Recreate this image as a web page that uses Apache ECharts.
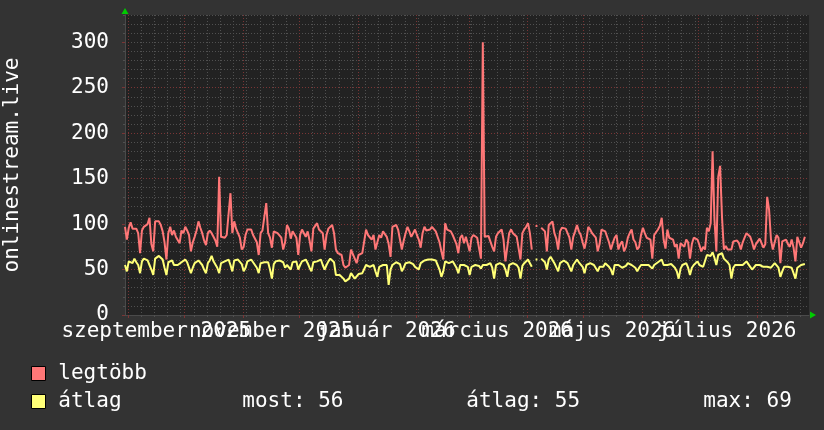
<!DOCTYPE html>
<html><head><meta charset="utf-8">
<script src="https://cdn.jsdelivr.net/npm/echarts@6/dist/echarts.min.js"></script>
<style>html,body{margin:0;padding:0;background:#333333;} #c{width:824px;height:430px;}</style>
</head><body><div id="c"></div>
<script>
// ---- data ----
const seriesNames = ['legtöbb', 'átlag'];
const statLabels = ['most: 56', 'átlag: 55', 'max: 69'];
const yTitle = 'onlinestream.live';
const xTickLabels = ['szeptember 2025', 'november 2025', 'január 2026', 'március 2026', 'május 2026', 'július 2026'];
const xTickLabelDates = ['2025-09-16', '2025-11-16', '2026-01-16', '2026-03-16', '2026-05-16', '2026-07-16'];
const monthStartDates = ['2025-09-01','2025-10-01','2025-11-01','2025-12-01','2026-01-01','2026-02-01','2026-03-01','2026-04-01','2026-05-01','2026-06-01','2026-07-01','2026-08-01'];
const firstWeekStart = '2025-09-01';
const yTickLabels = [0, 50, 100, 150, 200, 250, 300];
const startTime = '2025-08-30T09:46:00Z';
const endTime = '2026-08-28T14:34:00Z';

const legtobb = [
97,83,96,102,95,93,95,
90,68,93,97,96,100,107,
78,70,103,101,103,99,92,
80,61,90,97,88,93,86,
84,79,93,90,97,93,88,
70,80,86,93,103,96,90,
82,77,90,93,90,86,82,
75,152,86,85,85,88,88,
134,90,103,95,93,85,72,
75,88,94,95,94,88,86,
80,66,90,93,95,123,90,
85,74,92,94,90,88,85,
72,80,99,95,84,92,90,
85,66,88,94,90,86,92,
82,70,95,97,101,94,92,
90,72,88,95,97,99,90,
72,68,70,66,55,52,50,
55,72,70,62,57,66,68,
68,70,94,88,86,83,88,
72,80,88,85,92,90,86,
78,64,97,95,99,94,92,
72,82,90,97,92,86,90,
94,88,83,74,90,97,93,
95,94,97,99,92,90,80,
70,61,101,94,92,92,88,
86,78,68,85,88,79,86,
88,70,85,88,86,85,86,
62,300,86,85,87,88,75,
70,86,90,92,94,83,59,
75,90,94,90,88,86,84,
61,90,94,97,101,90,72,
null,98,98,null,96,94,92,
70,99,101,103,90,84,72,
92,96,96,95,96,85,72,
86,92,99,92,88,80,73,
83,97,94,90,88,85,70,
78,94,92,92,90,80,72,
79,85,88,72,78,81,70,
75,85,90,94,83,80,72,
75,88,96,90,85,86,83,
62,88,90,94,98,107,83,
73,94,85,86,83,75,78,
62,79,80,75,83,80,62,
78,85,86,83,77,70,75,
72,96,92,101,180,105,70,
152,164,108,72,76,72,74,
72,81,83,82,79,72,80,
85,90,92,86,80,72,78,
81,84,86,74,78,130,116,
83,72,80,88,85,57,81,
80,83,78,75,83,74,59,
86,80,74,79,86
];

const atlag = [
55,48,59,57,57,62,58,
55,46,59,62,64,60,55,
50,44,62,64,65,66,61,
52,44,58,59,60,55,57,
55,53,58,59,61,58,57,
46,52,57,59,60,61,55,
50,46,57,60,65,59,58,
52,46,57,58,59,60,61,
55,48,60,61,61,60,56,
48,52,59,60,61,58,57,
52,46,57,57,58,59,58,
50,40,56,59,60,60,61,
58,52,55,57,50,58,59,
59,50,55,59,60,61,57,
52,48,58,59,59,60,61,
55,50,55,59,62,64,58,
44,45,44,42,40,37,39,
40,46,44,40,42,45,44,
46,46,55,53,53,55,55,
48,42,53,55,55,56,55,
33,50,55,57,58,59,56,
48,52,57,57,58,59,56,
53,52,50,57,58,60,61,
61,62,61,61,60,55,50,
42,48,59,58,57,57,59,
61,52,46,55,56,55,53,
53,44,53,55,55,56,54,
51,55,55,55,56,57,52,
40,55,56,57,57,55,50,
42,55,56,57,57,55,52,
40,54,57,59,61,57,53,
null,61,61,null,62,62,58,
50,61,64,62,57,59,48,
57,59,60,58,57,55,48,
55,57,61,58,57,53,46,
55,53,57,56,55,53,48,
53,55,53,57,56,53,50,
44,55,53,55,53,52,51,
54,57,56,55,53,52,48,
52,55,57,55,55,55,53,
51,55,57,58,59,61,55,
53,55,55,56,55,52,48,
40,51,55,57,57,52,44,
52,55,56,59,55,55,53,
53,66,64,65,69,63,55,
66,64,68,62,61,58,55,
40,52,55,57,55,53,55,
55,59,56,53,50,52,55,
53,55,53,53,55,53,53,
52,53,57,57,52,42,48,
53,52,53,53,52,50,40,
52,53,55,55,56
];

// ---- derived ----
const DAY = 86400000;
const t0 = Date.parse(startTime), t1 = Date.parse(endTime);
const parseDay = s => Date.parse(s + 'T00:00:00Z');
const monthStarts = monthStartDates.map(parseDay);
const labelTimes = xTickLabelDates.map(parseDay);
const labelTimesA = labelTimes.filter((t, i) => i % 2 === 0);
const labelTimesB = labelTimes.filter((t, i) => i % 2 === 1);
const weekStarts = [];
for (let t = parseDay(firstWeekStart); t <= t1; t += 7 * DAY) weekStarts.push(t);
const toPairs = arr => arr.map((v, i) => [t0 + i * DAY, v]);

const font = 'DejaVu Sans Mono';
const minorGrid = {show: true, lineStyle: {color: '#505050', type: [1, 2], width: 1}};
const majorGrid = {show: true, lineStyle: {color: '#7a3535', type: [1, 2], width: 1}};
const txt = {color: '#ffffff', fontFamily: font, fontSize: 21};

function xLabel(v) {
  for (let i = 0; i < labelTimes.length; i++) if (Math.abs(labelTimes[i] - v) < DAY / 2) return xTickLabels[i];
  return '';
}
function labelAxis(values, withArrow) {
  return {type: 'value', position: 'bottom', min: t0, max: t1,
    axisLine: withArrow
      ? {show: true, onZero: false, symbol: ['none', 'triangle'], symbolSize: [7, 6], symbolOffset: [0, 4], lineStyle: {color: '#00cc00', width: 0}}
      : {show: false, onZero: false},
    axisTick: {show: false}, splitLine: {show: false},
    axisLabel: Object.assign({show: true, customValues: values, formatter: xLabel, margin: 6, hideOverlap: false, showMinLabel: true, showMaxLabel: true}, txt)};
}

const chart = echarts.init(document.getElementById('c'), null, {renderer: 'canvas'});
chart.setOption({
  animation: false,
  backgroundColor: '#333333',
  textStyle: {fontFamily: font},
  grid: {left: 125, right: 15, top: 15, bottom: 115, show: true, backgroundColor: '#222222', borderWidth: 0, containLabel: false, outerBoundsMode: 'none'},
  xAxis: [
    {type: 'value', position: 'bottom', min: t0, max: t1,
     axisLine: {show: true, onZero: false, lineStyle: {color: '#4a4a4a', width: 1}},
     axisTick: {show: true, length: 2, customValues: weekStarts, lineStyle: {color: '#505050'}},
     axisLabel: {show: false}, splitLine: minorGrid},
    {type: 'value', position: 'bottom', min: t0, max: t1,
     axisLine: {show: false, onZero: false},
     axisTick: {show: true, length: 3, customValues: monthStarts, lineStyle: {color: '#7a3535'}},
     axisLabel: {show: false}, splitLine: majorGrid},
    labelAxis(labelTimesA, true),
    labelAxis(labelTimesB, false)
  ],
  yAxis: [
    {type: 'value', position: 'left', min: 0, max: 330, interval: 10,
     axisLine: {show: true, onZero: false, lineStyle: {color: '#4a4a4a', width: 1}},
     axisTick: {show: true, length: 2, lineStyle: {color: '#505050'}},
     axisLabel: {show: false}, splitLine: minorGrid},
    {type: 'value', position: 'left', min: 0, max: 330,
     axisLine: {show: true, onZero: false, symbol: ['none', 'triangle'], symbolSize: [7, 6], symbolOffset: [0, 4], lineStyle: {color: '#00cc00', width: 0}},
     axisTick: {show: true, length: 3, customValues: yTickLabels, lineStyle: {color: '#7a3535'}},
     axisLabel: Object.assign({customValues: yTickLabels, margin: 16}, txt),
     splitLine: Object.assign({showMaxLine: false}, majorGrid),
     name: yTitle, nameLocation: 'middle', nameGap: 102, nameTextStyle: txt}
  ],
  legend: {
    left: 31, top: 363, orient: 'vertical', padding: 0, itemWidth: 14, itemHeight: 14, itemGap: 7,
    icon: 'rect', selectedMode: false,
    itemStyle: {borderColor: '#000000', borderWidth: 1},
    data: seriesNames,
    textStyle: Object.assign({lineHeight: 21, rich: {
      p: {fontFamily: font, fontSize: 13, lineHeight: 21, color: '#ffffff'},
      n: {fontFamily: font, fontSize: 21, lineHeight: 21, color: '#ffffff', width: 184},
      a: {fontFamily: font, fontSize: 21, lineHeight: 21, color: '#ffffff', width: 224},
      b: {fontFamily: font, fontSize: 21, lineHeight: 21, color: '#ffffff', width: 237},
      c: {fontFamily: font, fontSize: 21, lineHeight: 21, color: '#ffffff'}
    }}, txt),
    formatter: function (name) {
      if (name === seriesNames[1]) {
        return '{p|\u00a0}{n|' + name + '}{a|' + statLabels[0] + '}{b|' + statLabels[1] + '}{c|' + statLabels[2] + '}';
      }
      return '{p|\u00a0}{n|' + name + '}';
    }
  },
  series: [
    {name: seriesNames[0], type: 'line', xAxisIndex: 0, yAxisIndex: 0, data: toPairs(legtobb),
     showSymbol: false, symbol: 'none', connectNulls: false, silent: true, z: 3,
     lineStyle: {color: '#ff7777', width: 2}, itemStyle: {color: '#ff7777'}},
    {name: seriesNames[1], type: 'line', xAxisIndex: 0, yAxisIndex: 0, data: toPairs(atlag),
     showSymbol: false, symbol: 'none', connectNulls: false, silent: true, z: 4,
     lineStyle: {color: '#ffff77', width: 2}, itemStyle: {color: '#ffff77'}}
  ]
});
</script></body></html>
